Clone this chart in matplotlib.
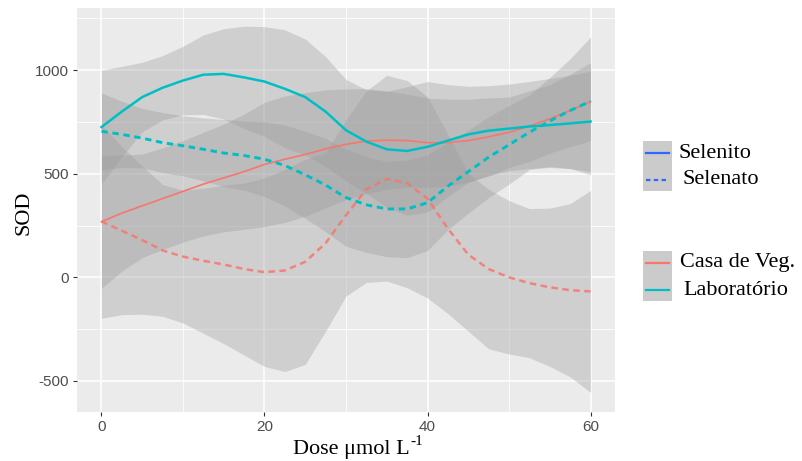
import matplotlib
matplotlib.use("Agg")
import matplotlib.pyplot as plt
from matplotlib.patches import Rectangle
from matplotlib.lines import Line2D

plt.rcParams['axes.unicode_minus'] = False

# dose grid (umol L-1)
dose = [0, 2.5, 5, 7.5, 10, 12.5, 15, 17.5, 20, 22.5, 25, 27.5, 30,
        32.5, 35, 37.5, 40, 42.5, 45, 47.5, 50, 52.5, 55, 57.5, 60]

# Laboratorio - Selenito (solid)
lab_sel = [725, 800, 870, 915, 950, 978, 982, 965, 945, 910, 870, 800, 710,
           655, 618, 610, 630, 660, 690, 708, 718, 728, 735, 743, 752]
lab_sel_lo = [450, 582, 702, 760, 785, 786, 764, 718, 680, 625, 590, 535, 465,
              405, 338, 300, 315, 390, 458, 491, 515, 525, 530, 525, 510]
lab_sel_hi = [1000, 1018, 1038, 1070, 1115, 1170, 1200, 1212, 1210, 1195, 1150, 1065, 955,
              905, 898, 920, 945, 930, 922, 925, 933, 945, 960, 975, 995]

# Laboratorio - Selenato (dashed)
lab_sto = [705, 690, 672, 650, 635, 618, 600, 588, 570, 540, 495, 445, 385,
           350, 330, 330, 360, 440, 510, 580, 640, 700, 755, 805, 850]
lab_sto_lo = [520, 530, 529, 505, 490, 466, 438, 421, 390, 345, 285, 220, 150,
              120, 100, 95, 130, 230, 310, 385, 450, 520, 535, 525, 495]
lab_sto_hi = [890, 850, 815, 795, 780, 770, 762, 755, 750, 735, 705, 670, 620,
              580, 560, 565, 590, 650, 710, 775, 830, 880, 965, 1055, 1160]

# Casa de Veg. - Selenito (solid)
cv_sel = [268, 310, 345, 380, 415, 450, 480, 510, 545, 570, 593, 620, 642,
          658, 662, 660, 650, 650, 660, 678, 700, 730, 765, 805, 848]
cv_sel_lo = [-52, 30, 95, 135, 170, 200, 220, 232, 245, 265, 295, 335, 375,
             405, 425, 435, 435, 440, 460, 490, 530, 560, 600, 630, 660]
cv_sel_hi = [588, 590, 595, 625, 660, 700, 740, 788, 845, 875, 891, 905, 909,
             911, 899, 885, 865, 860, 860, 866, 870, 900, 930, 980, 1036]

# Casa de Veg. - Selenato (dashed)
cv_sto = [270, 225, 180, 130, 100, 80, 62, 40, 25, 33, 75, 165, 300,
          425, 475, 455, 380, 235, 110, 40, 0, -28, -48, -62, -68]
cv_sto_lo = [-198, -180, -178, -188, -220, -270, -320, -375, -430, -455, -420, -260, -90,
             -25, -18, -50, -100, -175, -260, -345, -370, -388, -430, -480, -555]
cv_sto_hi = [738, 630, 538, 448, 420, 430, 444, 455, 480, 521, 570, 600, 760,
             900, 975, 950, 870, 690, 500, 425, 370, 332, 334, 356, 419]

RED = '#F8766D'
TEAL = '#00BFC4'
BLUE = '#3366FF'

W, H = 802, 461
fig = plt.figure(figsize=(W / 100, H / 100), dpi=100)
ax = fig.add_axes([77 / W, 49 / H, 538 / W, 404 / H])
ax.set_facecolor('#EBEBEB')
for s in ax.spines.values():
    s.set_visible(False)

# grid like ggplot
ax.set_xticks([0, 20, 40, 60])
ax.set_yticks([-500, 0, 500, 1000])
ax.set_xticks([10, 30, 50], minor=True)
ax.set_yticks([-250, 250, 750, 1250], minor=True)
ax.grid(True, which='major', color='white', lw=1.1)
ax.grid(True, which='minor', color='white', lw=0.55)
ax.set_axisbelow(True)
ax.tick_params(which='minor', length=0)
ax.tick_params(which='major', length=2.6, width=0.8, color='#333333', pad=3,
               labelsize=11, labelcolor='#4d4d4d')
for lab in ax.get_xticklabels() + ax.get_yticklabels():
    lab.set_fontfamily('Liberation Sans')

# confidence ribbons
for lo, hi in [(lab_sel_lo, lab_sel_hi), (lab_sto_lo, lab_sto_hi),
               (cv_sel_lo, cv_sel_hi), (cv_sto_lo, cv_sto_hi)]:
    ax.fill_between(dose, lo, hi, color='#999999', alpha=0.34, lw=0)

# smooth lines
ax.plot(dose, cv_sel, color=RED, lw=1.2)
ax.plot(dose, cv_sto, color=RED, lw=1.8, ls=(0, (2.6, 1.8)), alpha=0.85)
ax.plot(dose, lab_sel, color=TEAL, lw=1.8)
ax.plot(dose, lab_sto, color=TEAL, lw=2.1, ls=(0, (2.2, 1.6)))

ax.set_xlim(-3, 63)
ax.set_ylim(-650, 1300)

# axis titles
fig.text(24 / W, 1 - 213 / H, 'SOD', rotation=90, ha='center', va='center',
         fontsize=16, family='Liberation Serif')
xt = fig.text(293 / W, 1 - 449 / H, 'Dose μmol L', ha='left', va='center',
              fontsize=16, family='Liberation Serif')
fig.canvas.draw()
bb = xt.get_window_extent()
fig.text((bb.x1 + 1) / W, 1 - 441 / H, '-1', ha='left', va='center',
         fontsize=11, family='Liberation Serif')


# legends drawn by hand, ggplot style
def legend_block(y_top, labels, colors, styles, xtext):
    fig.add_artist(Rectangle((643 / W, 1 - (y_top + 50) / H), 29 / W, 50 / H,
                             transform=fig.transFigure, facecolor='#CBCBCB', lw=0))
    for i, (lab, c, st) in enumerate(zip(labels, colors, styles)):
        yc = y_top + 12 + i * 27
        fig.add_artist(Line2D([646 / W, 669 / W], [1 - yc / H, 1 - yc / H],
                              transform=fig.transFigure, color=c, lw=1.6, ls=st))
        fig.text(xtext[i] / W, 1 - yc / H, lab, ha='left', va='center',
                 fontsize=16, family='Liberation Serif')


legend_block(141, ['Selenito', 'Selenato'], [BLUE, BLUE], ['-', (0, (2, 1.5))], [679, 682])
legend_block(251, ['Casa de Veg.', 'Laboratório'], [RED, TEAL], ['-', '-'], [680, 683])

fig.savefig('out.png', dpi=100)
